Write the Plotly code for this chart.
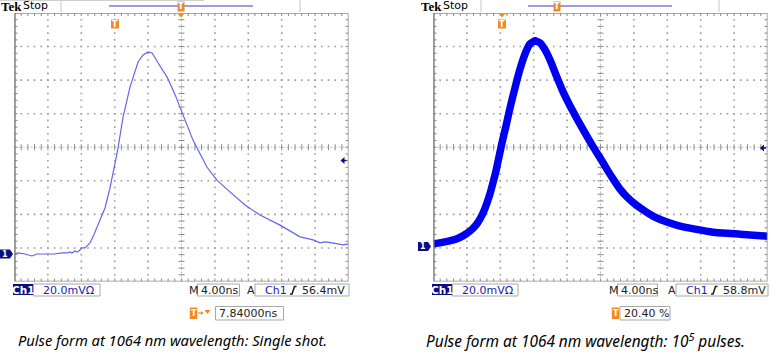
import plotly.graph_objects as go

# ---------------- data (screen divisions: x 0..10, y 0..8) ----------------
single_t = [0, 0.10, 0.31, 0.52, 0.67, 0.97, 1.21, 1.42, 1.57, 1.66, 1.72, 1.81, 1.87, 1.93,
            2.02, 2.11, 2.17, 2.26, 2.35, 2.44, 2.56, 2.71, 2.86, 3.01, 3.10, 3.25, 3.46,
            3.70, 3.85, 4.00, 4.12, 4.30, 4.57, 4.81, 5.01, 5.34, 5.76, 6.06, 6.45, 6.90,
            7.35, 7.95, 8.55, 8.76, 8.94, 9.15, 9.30, 9.51, 9.66, 9.84, 10.0]
single_v = [0.82, 0.85, 0.82, 0.76, 0.82, 0.82, 0.82, 0.85, 0.85, 0.88, 0.85, 0.91, 0.88, 0.91,
            1.00, 1.00, 1.06, 1.15, 1.33, 1.53, 1.83, 2.19, 2.79, 3.53, 3.98, 4.90, 5.80,
            6.54, 6.75, 6.84, 6.81, 6.51, 6.09, 5.56, 5.05, 4.22, 3.41, 3.02, 2.67, 2.28,
            1.98, 1.68, 1.33, 1.27, 1.24, 1.15, 1.18, 1.15, 1.12, 1.09, 1.12]

avg_t = [0, 0.34, 0.64, 0.88, 1.09, 1.27, 1.39, 1.51, 1.60, 1.69, 1.78, 1.87, 1.96, 2.05,
         2.17, 2.29, 2.44, 2.59, 2.74, 2.89, 3.04, 3.19, 3.34, 3.49, 3.67, 3.88, 4.09,
         4.30, 4.54, 4.78, 4.99, 5.19, 5.40, 5.58, 5.79, 6.03, 6.33, 6.63, 6.99, 7.38,
         7.83, 8.37, 9.18, 10.0]
avg_v = [1.12, 1.18, 1.25, 1.36, 1.50, 1.68, 1.86, 2.10, 2.34, 2.61, 2.94, 3.29, 3.71, 4.13,
         4.63, 5.17, 5.77, 6.33, 6.78, 7.08, 7.17, 7.11, 6.90, 6.60, 6.15, 5.65, 5.23,
         4.84, 4.42, 4.01, 3.68, 3.35, 3.02, 2.76, 2.52, 2.31, 2.10, 1.92, 1.77, 1.65,
         1.56, 1.47, 1.41, 1.35]

left_status = ["20.0mVΩ", "4.00ns", "56.4mV", "7.84000ns"]
right_status = ["20.0mVΩ", "4.00ns", "58.8mV", "20.40 %"]
captions = ["Pulse form at 1064 nm wavelength: Single shot.",
            "Pulse form at 1064 nm wavelength: 10<sup>5</sup> pulses."]

# ---------------- geometry ----------------
W, H = 784, 354
TOP, BOT = 13.0, 281.5
PANELS = [(14.5, 348.5), (433.5, 767.5)]
DIVY = (BOT - TOP) / 8

NAVY = "#0d0d80"
ORANGE = "#f28a24"
TXTBLUE = "#1c1ca8"
DARK = "#222222"


def X(p):
    return p / W


def Y(p):
    return 1 - p / H


fig = go.Figure()
shapes = []
annotations = []


def ann(x, y, s, size=11, color=DARK, anchor="left", family="DejaVu Sans", bold=False, italic=False):
    annotations.append(dict(
        x=X(x), y=Y(y), xref="paper", yref="paper", text=s, showarrow=False,
        xanchor=anchor, yanchor="middle",
        font=dict(size=size, color=color, family=family,
                  weight="bold" if bold else "normal", style="italic" if italic else "normal"),
        borderpad=0))


def rect(x0, y0, x1, y1, line=None, fill=None, lw=1):
    shapes.append(dict(type="rect", xref="paper", yref="paper",
                       x0=X(x0), x1=X(x1), y0=Y(y0), y1=Y(y1),
                       line=dict(color=line if line else "rgba(0,0,0,0)", width=lw if line else 0),
                       fillcolor=fill if fill else "rgba(0,0,0,0)", layer="above"))


def boxr(x0, y0, x1, y1):
    rect(x0, y0, x1, y1, line="#a8a8a8")


def line(x0, y0, x1, y1, color="#aaaaaa", lw=1):
    shapes.append(dict(type="line", xref="paper", yref="paper",
                       x0=X(x0), x1=X(x1), y0=Y(y0), y1=Y(y1),
                       line=dict(color=color, width=lw), layer="above"))


def path(pts, fill, color=None, lw=0, closed=True):
    d = "M " + " L ".join(f"{X(a):.5f},{Y(b):.5f}" for a, b in pts) + (" Z" if closed else "")
    shapes.append(dict(type="path", xref="paper", yref="paper", path=d,
                       fillcolor=fill if fill else "rgba(0,0,0,0)",
                       line=dict(color=color if color else "rgba(0,0,0,0)", width=lw), layer="above"))


def tbox(cx, y0, y1, w=8):
    rect(cx - w / 2, y0, cx + w / 2, y1, line=None, fill=ORANGE)
    ann(cx, (y0 + y1) / 2 + 0.5, "<b>T</b>", size=8, color="white", anchor="center", family="DejaVu Sans")


for pi, (x0p, x1p) in enumerate(PANELS):
    xa = "x" if pi == 0 else "x2"
    ya = "y" if pi == 0 else "y2"
    divx = (x1p - x0p) / 10
    tx = 3 / divx
    ty = 3 / DIVY
    # dotted grid
    dx, dy = [], []
    for i in [1, 2, 3, 4, 6, 7, 8, 9]:
        for k in range(1, 40):
            dx.append(i); dy.append(k * 0.2)
    for j in [1, 2, 3, 5, 6, 7]:
        for k in range(1, 50):
            dx.append(k * 0.2); dy.append(j)
    fig.add_trace(go.Scatter(x=dx, y=dy, mode="markers", xaxis=xa, yaxis=ya, hoverinfo="skip",
                             marker=dict(symbol="square", size=1.6, color="#9a9a9a", line=dict(width=0))))
    # center lines
    fig.add_trace(go.Scatter(x=[0, 10, None, 5, 5], y=[4, 4, None, 0, 8], mode="lines", xaxis=xa, yaxis=ya,
                             hoverinfo="skip", line=dict(color="#bdbdbd", width=1, dash="2px,2px")))
    # ticks
    sx, sy = [], []
    for k in range(1, 50):
        v = k * 0.2
        sx += [v, v, None, v, v, None, v, v, None]
        sy += [4 - ty, 4 + ty, None, 0, ty, None, 8, 8 - ty, None]
    for k in range(1, 40):
        v = k * 0.2
        sx += [5 - tx, 5 + tx, None, 0, tx, None, 10, 10 - tx, None]
        sy += [v, v, None, v, v, None, v, v, None]
    fig.add_trace(go.Scatter(x=sx, y=sy, mode="lines", xaxis=xa, yaxis=ya, hoverinfo="skip",
                             line=dict(color="#8a8a8a", width=1)))
    # border
    shapes.append(dict(type="rect", xref=xa, yref=ya, x0=0, x1=10, y0=0, y1=8,
                       line=dict(color="#8e8e8e", width=1.5), layer="above"))
    shapes.append(dict(type="line", xref=xa, yref=ya, x0=0, x1=0, y0=0, y1=8,
                       line=dict(color="#6a6a6a", width=2), layer="above"))

# pulse traces
fig.add_trace(go.Scatter(x=single_t, y=single_v, mode="lines", xaxis="x", yaxis="y", hoverinfo="skip",
                         line=dict(color="#6464ee", width=1.2)))
fig.add_trace(go.Scatter(x=avg_t, y=avg_v, mode="lines", xaxis="x2", yaxis="y2", hoverinfo="skip",
                         line=dict(color="#0000f0", width=7.5, shape="spline", smoothing=0.5)))

# ---------------- header / decorations ----------------
hdr = [dict(tek=0, vl=[61, 300], bl=(109, 253), tb=181, tri=181, tpos=115, topline=True,
            arrow=(340.5, 160.5), marker=(0, 254)),
       dict(tek=420, vl=[481, 719], bl=(528, 672), tb=557, tri=502, tpos=502, topline=False,
            arrow=(760, 148), marker=(418, 246.5))]
for h in hdr:
    ann(h["tek"], 6.5, "Tek", size=13, color="black", family="Liberation Serif", bold=True)
    ann(h["tek"] + 22, 6.0, "Stop", size=11, color="black", family="DejaVu Sans")
    for v in h["vl"]:
        line(v, 0, v, 12, color="#c8c8c8", lw=1)
    if h["topline"]:
        line(0, 0.5, 204, 0.5, color="#d0d0d0", lw=1)
    line(h["bl"][0], 6, h["bl"][1], 6, color="#3a3ac4", lw=1.2)
    tbox(h["tb"], 1.5, 11.5, w=7)
    c = h["tri"]
    path([(c - 3.5, 13.5), (c + 3.5, 13.5), (c, 17.5)], ORANGE)
    tbox(h["tpos"], 19.5, 28.5, w=8)
    ax, ay = h["arrow"]
    path([(ax, ay), (ax + 4, ay - 3.5), (ax + 4, ay + 3.5)], NAVY)
    line(ax + 3, ay, ax + 6, ay, color=NAVY, lw=1.5)
    mx, my = h["marker"]
    path([(mx, my - 4.5), (mx + 10, my - 4.5), (mx + 13, my), (mx + 10, my + 4.5), (mx, my + 4.5)], NAVY)
    ann(mx + 5, my + 0.5, "<b>1</b>", size=8, color="white", anchor="center")

# ---------------- status bars ----------------
stat = [dict(ch=(13, 33), vbox=100, m=187.5, mbox=(197.5, 239.5), a=246, abox=(255, 349), row2=190,
             vals=left_status),
        dict(ch=(432, 452), vbox=518, m=607.5, mbox=(617.5, 657.5), a=667, abox=(676, 768), row2=612,
             vals=right_status)]
for i, s in enumerate(stat):
    c0, c1 = s["ch"]
    rect(c0, 284, c1, 295, line=None, fill=NAVY)
    ann((c0 + c1) / 2, 289.8, "<b>Ch1</b>", size=10.5, color="white", anchor="center")
    boxr(c1 + 0.5, 284, s["vbox"], 296)
    ann(c1 + 9, 290, s["vals"][0], size=11, color=TXTBLUE)
    ann(s["m"], 290, "M", size=11, color=DARK)
    m0, m1 = s["mbox"]
    boxr(m0, 284, m1, 296)
    ann(m0 + 2, 290, s["vals"][1], size=11, color=DARK)
    ann(s["a"], 290, "A", size=11, color=DARK)
    a0, a1 = s["abox"]
    boxr(a0, 284, a1, 296)
    ann(a0 + 9, 290, "Ch1", size=11, color=TXTBLUE)
    sx0 = a0 + 35
    path([(sx0, 294), (sx0 + 2, 294), (sx0 + 4.5, 286.5), (sx0 + 6.5, 286.5)], None, color=DARK, lw=1.6,
         closed=False)
    ann(a0 + 46, 290, s["vals"][2], size=11, color=DARK)
    r = s["row2"]
    tbox(r + 3.5, 307.5, 319, w=7.5)
    if i == 0:
        line(r + 8, 313, r + 13, 313, color=ORANGE, lw=1.2)
        path([(r + 11, 311), (r + 13.5, 313), (r + 11, 315)], ORANGE)
        path([(r + 14.5, 310), (r + 20.5, 310), (r + 17.5, 314)], ORANGE)
        b0, b1 = r + 25.5, r + 93.5
    else:
        b0, b1 = r + 8, r + 58
    boxr(b0, 306.5, b1, 320)
    ann(b0 + 2.5, 313.5, s["vals"][3], size=11, color=DARK)

ann(17, 340, captions[0], size=14.7, color="black", family="Noto Sans", italic=True)
ann(425, 340, captions[1], size=15.4, color="black", family="Noto Sans", italic=True)

# ---------------- axes ----------------
axis_common = dict(showgrid=False, zeroline=False, showticklabels=False, ticks="", showline=False,
                   fixedrange=True)
fig.update_layout(
    width=W, height=H, margin=dict(l=0, r=0, t=0, b=0),
    paper_bgcolor="white", plot_bgcolor="white", showlegend=False,
    xaxis=dict(domain=[X(PANELS[0][0]), X(PANELS[0][1])], range=[0, 10], **axis_common),
    yaxis=dict(domain=[Y(BOT), Y(TOP)], range=[0, 8], **axis_common),
    xaxis2=dict(domain=[X(PANELS[1][0]), X(PANELS[1][1])], range=[0, 10], anchor="y2", **axis_common),
    yaxis2=dict(domain=[Y(BOT), Y(TOP)], range=[0, 8], anchor="x2", **axis_common),
    shapes=shapes, annotations=annotations,
)

fig.write_html("out.html")
